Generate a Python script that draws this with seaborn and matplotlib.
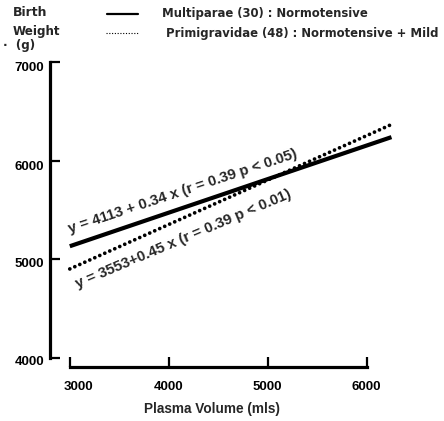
import matplotlib
matplotlib.use("Agg")
import matplotlib.pyplot as plt
import matplotlib.transforms as mtransforms
import seaborn as sns
import pandas as pd
from matplotlib.lines import Line2D

# ---- data ----
plasma_volume = [3000, 6250]
multiparae_bw = [5133, 6238]      # y = 4113 + 0.34 x
primigravidae_bw = [4903, 6366]   # y = 3553 + 0.45 x
x_ticks = [3000, 4000, 5000, 6000]
y_ticks = [4000, 5000, 6000, 7000]
series_names = ["Multiparae (30) : Normotensive",
                "Primigravidae (48) : Normotensive + Mild"]
eq_texts = ["y = 4113 + 0.34 x (r = 0.39 p < 0.05)",
            "y = 3553+0.45 x (r = 0.39 p < 0.01)"]

sns.set_style("ticks")
plt.rcParams["font.family"] = ["Liberation Sans", "DejaVu Sans"]
plt.rcParams["font.weight"] = "bold"

df = pd.DataFrame({
    "x": plasma_volume * 2,
    "y": multiparae_bw + primigravidae_bw,
    "group": [series_names[0]] * 2 + [series_names[1]] * 2,
})

fig = plt.figure(figsize=(4.44, 4.21), dpi=100)
ax = fig.add_axes([50 / 444, (421 - 367) / 421, 386 / 444, 315 / 421])

sns.lineplot(data=df[df.group == series_names[0]], x="x", y="y", ax=ax,
             color="black", linewidth=3.0, legend=False)
sns.lineplot(data=df[df.group == series_names[1]], x="x", y="y", ax=ax,
             color="black", linewidth=2.7, legend=False)
ax.lines[0].set_solid_capstyle("butt")
ax.lines[1].set_linestyle((0, (0.01, 1.45)))
ax.lines[1].set_dash_capstyle("round")

ax.set_xlim(2800, 6700)
ax.set_ylim(3910, 7100)
ax.set_xticks(x_ticks)
ax.set_yticks(y_ticks)
ax.spines["right"].set_visible(False)
ax.spines["top"].set_visible(False)
for s in ("left", "bottom"):
    ax.spines[s].set_linewidth(2.3)
    ax.spines[s].set_color("black")
ax.spines["left"].set_bounds(4000, 7000)
ax.spines["bottom"].set_bounds(3000, 6000)
ax.tick_params(axis="both", direction="in", length=7, width=1.6,
               color="black", labelsize=9.5, labelcolor="black")
ax.tick_params(axis="x", pad=10)
ax.tick_params(axis="y", pad=4)
for lab in ax.get_xticklabels() + ax.get_yticklabels():
    lab.set_fontweight("bold")
ax.set_xlabel("")
ax.set_ylabel("")

# small offsets of tick labels as in the original print
fig.canvas.draw()
xl = ax.get_xticklabels()
xl[0].set_transform(xl[0].get_transform() +
                    mtransforms.ScaledTranslation(9 / 100, 0, fig.dpi_scale_trans))
y_off = [2, 3, 5, 5]
for lab, off in zip(ax.get_yticklabels(), y_off):
    lab.set_transform(lab.get_transform() +
                      mtransforms.ScaledTranslation(0, -off / 100, fig.dpi_scale_trans))

# x-axis label
fig.text(212 / 444, 1 - 409 / 421, "Plasma Volume (mls)", fontsize=9.8,
         fontweight="bold", ha="center", va="center")

# equation annotations
ax.text(3002, 5266, eq_texts[0], rotation=18.4, rotation_mode="anchor",
        ha="left", va="baseline", fontsize=10.7, fontweight="bold")
ax.text(3083, 4709, eq_texts[1], rotation=23.0, rotation_mode="anchor",
        ha="left", va="baseline", fontsize=10.7, fontweight="bold")

lab_font = dict(family="DejaVu Sans", fontweight="bold", fontsize=8.4)

# y-axis label block
fig.text(13 / 444, 1 - 13 / 421, "Birth", ha="left", va="center",
         family="DejaVu Sans", fontweight="bold", fontsize=9)
fig.text(13 / 444, 1 - 32 / 421, "Weight", ha="left", va="center",
         family="DejaVu Sans", fontweight="bold", fontsize=8.6)
fig.text(3 / 444, 1 - 46 / 421, "·  (g)", ha="left", va="center",
         family="DejaVu Sans", fontweight="bold", fontsize=8.6)

# legend
fig.add_artist(Line2D([107 / 444, 138 / 444], [1 - 13.5 / 421, 1 - 13.5 / 421],
                      transform=fig.transFigure, color="black", linewidth=1.6))
fig.add_artist(Line2D([106 / 444, 138 / 444], [1 - 33 / 421, 1 - 33 / 421],
                      transform=fig.transFigure, color="black", linewidth=0.8,
                      linestyle=(0, (1, 1.5))))
fig.text(162 / 444, 1 - 13 / 421, series_names[0], ha="left", va="center",
         **lab_font)
fig.text(166 / 444, 1 - 33 / 421, series_names[1], ha="left", va="center",
         **lab_font)

fig.savefig("out.png", dpi=100)
